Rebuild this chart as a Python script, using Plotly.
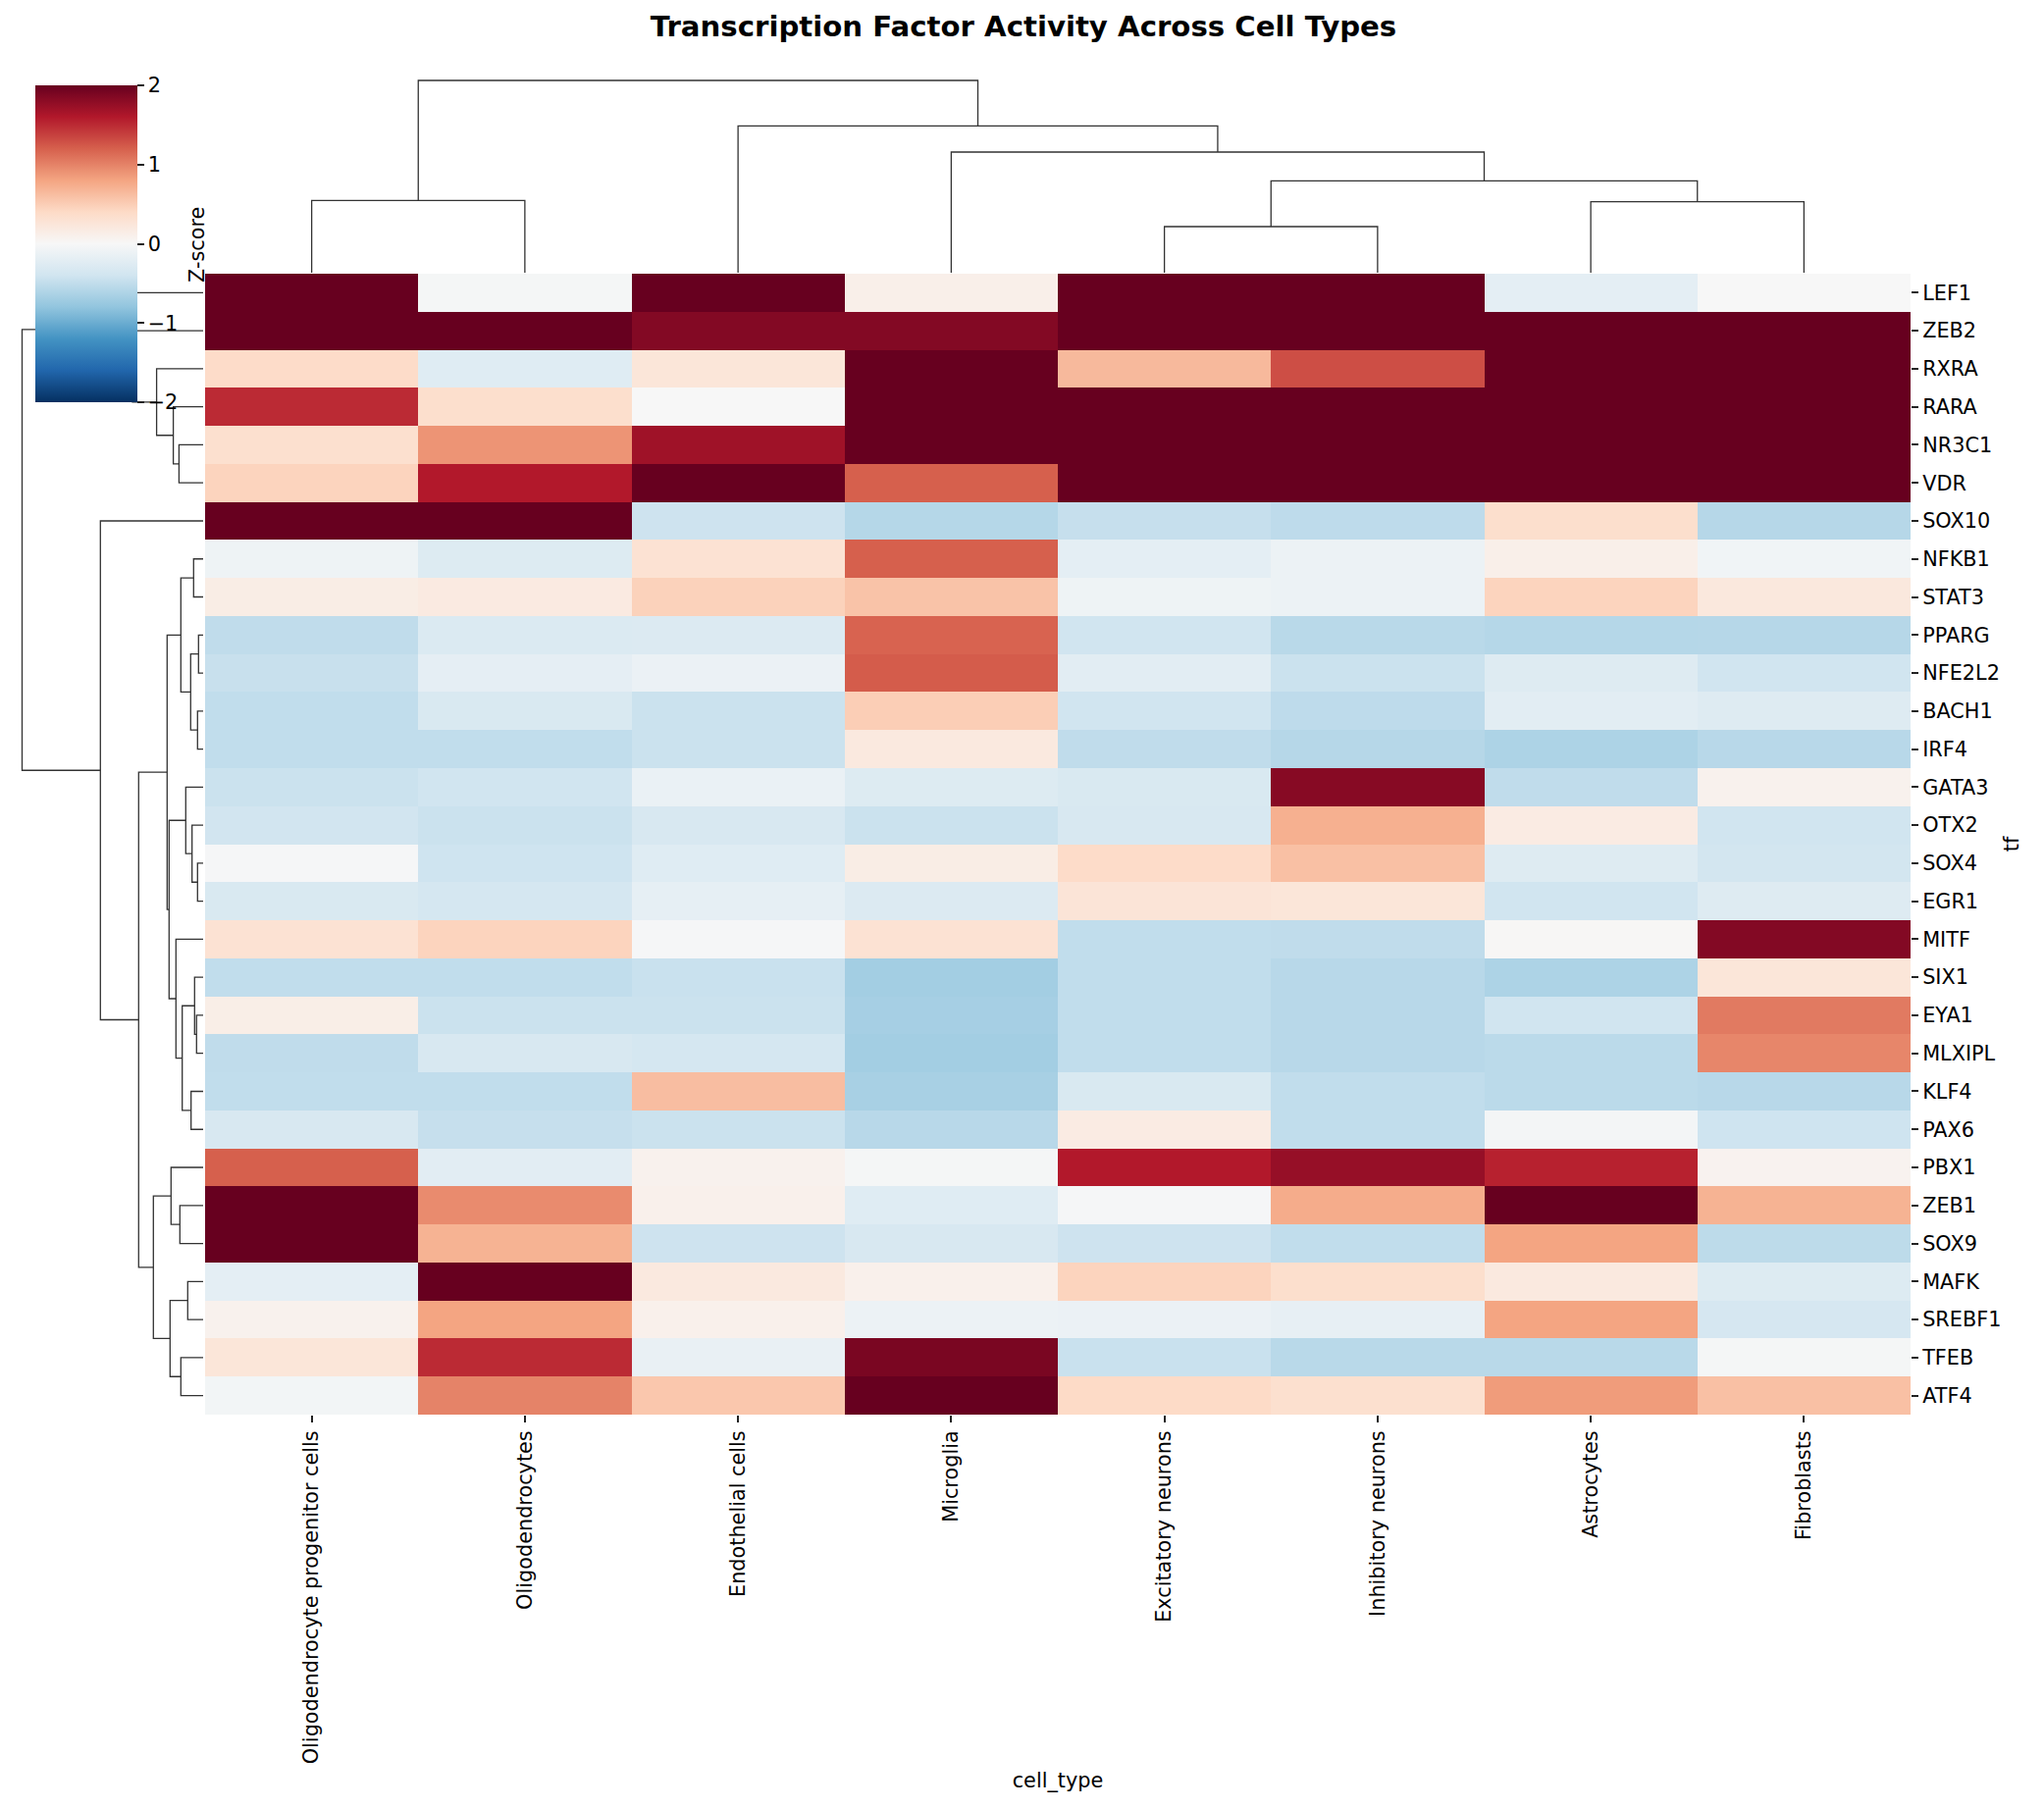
import plotly.graph_objects as go
from plotly.colors import sequential

W, H = 2083, 1843
# the page keeps an 8px body margin, so the figure is smaller and px are page positions
FW, FH = W - 16, H - 16


def px(v):
    return (v - 8) / FW


def py(v):
    return 1 - (v - 8) / FH


cell_types = ['Oligodendrocyte progenitor cells', 'Oligodendrocytes', 'Endothelial cells', 'Microglia',
              'Excitatory neurons', 'Inhibitory neurons', 'Astrocytes', 'Fibroblasts']
tfs = ['LEF1', 'ZEB2', 'RXRA', 'RARA', 'NR3C1', 'VDR', 'SOX10', 'NFKB1', 'STAT3', 'PPARG',
       'NFE2L2', 'BACH1', 'IRF4', 'GATA3', 'OTX2', 'SOX4', 'EGR1', 'MITF', 'SIX1', 'EYA1',
       'MLXIPL', 'KLF4', 'PAX6', 'PBX1', 'ZEB1', 'SOX9', 'MAFK', 'SREBF1', 'TFEB', 'ATF4']

# z-scores, values past +2 are saturated in the reference
zscores = [
    [2.5, -0.03, 2.2, 0.12, 2.2, 2.2, -0.2, 0.0],
    [2.5, 2.5, 1.85, 1.85, 2.5, 2.5, 2.5, 2.5],
    [0.38, -0.25, 0.25, 2.5, 0.65, 1.3, 2.5, 2.5],
    [1.5, 0.35, 0.0, 2.5, 2.5, 2.5, 2.5, 2.5],
    [0.33, 0.9, 1.7, 2.5, 2.5, 2.5, 2.5, 2.5],
    [0.45, 1.6, 2.2, 1.2, 2.5, 2.5, 2.5, 2.5],
    [2.5, 2.5, -0.42, -0.58, -0.47, -0.52, 0.35, -0.57],
    [-0.1, -0.27, 0.3, 1.2, -0.2, -0.12, 0.12, -0.07],
    [0.15, 0.18, 0.47, 0.58, -0.1, -0.12, 0.45, 0.22],
    [-0.51, -0.29, -0.28, 1.18, -0.4, -0.55, -0.58, -0.57],
    [-0.46, -0.19, -0.13, 1.22, -0.22, -0.44, -0.26, -0.4],
    [-0.5, -0.32, -0.44, 0.5, -0.4, -0.52, -0.22, -0.26],
    [-0.5, -0.5, -0.44, 0.2, -0.51, -0.57, -0.63, -0.56],
    [-0.44, -0.4, -0.14, -0.27, -0.32, 1.83, -0.51, 0.08],
    [-0.39, -0.44, -0.33, -0.44, -0.33, 0.72, 0.17, -0.4],
    [-0.02, -0.41, -0.25, 0.15, 0.38, 0.6, -0.26, -0.38],
    [-0.32, -0.36, -0.18, -0.28, 0.27, 0.25, -0.4, -0.26],
    [0.3, 0.45, -0.02, 0.3, -0.5, -0.51, 0.02, 1.85],
    [-0.5, -0.5, -0.45, -0.69, -0.5, -0.56, -0.63, 0.25],
    [0.13, -0.44, -0.44, -0.67, -0.5, -0.56, -0.4, 1.05],
    [-0.51, -0.33, -0.36, -0.69, -0.5, -0.56, -0.54, 0.98],
    [-0.5, -0.5, 0.62, -0.66, -0.32, -0.5, -0.54, -0.56],
    [-0.33, -0.47, -0.44, -0.56, 0.17, -0.5, -0.04, -0.41],
    [1.2, -0.22, 0.08, -0.03, 1.6, 1.75, 1.55, 0.07],
    [2.5, 0.95, 0.1, -0.25, -0.02, 0.75, 2.5, 0.7],
    [2.5, 0.7, -0.42, -0.33, -0.42, -0.5, 0.8, -0.53],
    [-0.2, 2.5, 0.2, 0.1, 0.45, 0.35, 0.2, -0.27],
    [0.08, 0.8, 0.1, -0.12, -0.13, -0.17, 0.8, -0.35],
    [0.25, 1.5, -0.15, 1.9, -0.45, -0.55, -0.55, -0.03],
    [-0.05, 1.0, 0.55, 2.3, 0.4, 0.33, 0.85, 0.6],
]

# dendrograms as (height, left, right), an int is a leaf index
col_tree = (196, (73.6, 0, 1),
            (149.6, 2, (123, 3, (93.6, (47, 4, 5), (72.3, 6, 7)))))

row_tree = (184.5,
            (130, 0, (72, 1, (47.4, 2, (30.4, 3, (24.6, 4, 5))))),
            (104.7, 6,
             (65.7,
              (36.7,
               (22.7, (9.7, 7, 8), (12.7, (4.7, 9, 10), (5.7, 11, 12))),
               (34.7,
                (17.7, 13, (11.3, 14, (5.7, 15, 16))),
                (27.7, 17, (21.3, (8.7, 18, (6.7, 19, 20)), (12.3, 21, 22))))),
              (50.7,
               (32.7, 23, (23.7, 24, 25)),
               (33.7, (15.7, 26, 27), (22.7, 28, 29))))))


def tree_lines(node, pos, height):
    # walks the tree, appends the U shape of each merge, returns (position, height) of node
    if isinstance(node, int):
        return node, 0
    h, left, right = node
    p1, h1 = tree_lines(left, pos, height)
    p2, h2 = tree_lines(right, pos, height)
    pos += [p1, p1, p2, p2, None]
    height += [h1, h, h, h2, None]
    return (p1 + p2) / 2, h


col_pos, col_h = [], []
tree_lines(col_tree, col_pos, col_h)
row_pos, row_h = [], []
tree_lines(row_tree, row_pos, row_h)

font = dict(family='DejaVu Sans', size=20.8, color='black')
tick_color = '#222222'

fig = go.Figure()
fig.add_trace(go.Heatmap(
    z=zscores, x=cell_types, y=tfs, zmin=-2, zmax=2,
    colorscale=sequential.RdBu_r,
    colorbar=dict(
        x=px(36), xanchor='left', xref='paper', xpad=0,
        y=py(248.5), yanchor='middle', yref='paper', ypad=0,
        thicknessmode='pixels', thickness=104,
        lenmode='pixels', len=323,
        outlinewidth=0,
        tickmode='array', tickvals=[-2, -1, 0, 1, 2],
        ticks='outside', ticklen=7, tickwidth=1.6, tickcolor=tick_color,
        tickfont=font,
    ),
))
line = dict(color='#333333', width=1.3)
fig.add_trace(go.Scatter(x=col_pos, y=col_h, mode='lines', line=line, xaxis='x2', yaxis='y2', showlegend=False))
fig.add_trace(go.Scatter(x=row_h, y=row_pos, mode='lines', line=line, xaxis='x3', yaxis='y3', showlegend=False))

blank = dict(visible=False, showgrid=False, zeroline=False)
heat_x = [px(209), px(1947)]
heat_y = [py(1442), py(279)]
fig.update_layout(
    width=FW, height=FH,
    margin=dict(l=0, r=0, t=0, b=0),
    paper_bgcolor='white', plot_bgcolor='white',
    showlegend=False,
    title=dict(text='<b>Transcription Factor Activity Across Cell Types</b>',
               x=px(1043), xanchor='center', y=py(27), yanchor='middle',
               font=dict(family='DejaVu Sans', size=29.2, color='black')),
    xaxis=dict(domain=heat_x, side='bottom', tickangle=-90, ticks='outside', ticklen=7, tickwidth=1.6,
               tickcolor=tick_color, tickfont=font,
               showgrid=False, zeroline=False, automargin=False,
               title=dict(text='cell_type', standoff=10, font=font)),
    yaxis=dict(domain=heat_y, side='right', autorange='reversed', ticks='outside', ticklen=7, tickwidth=1.6,
               tickcolor=tick_color, tickfont=font,
               showgrid=False, zeroline=False, automargin=False,
               title=dict(text='tf', standoff=4, font=font)),
    xaxis2=dict(domain=heat_x, range=[-0.5, 7.5], anchor='y2', **blank),
    yaxis2=dict(domain=[py(278), py(78)], range=[0, 200], anchor='x2', **blank),
    xaxis3=dict(domain=[px(8), px(207)], range=[199, 0], anchor='y3', **blank),
    yaxis3=dict(domain=heat_y, range=[29.5, -0.5], anchor='x3', **blank),
    annotations=[dict(text='Z-score', textangle=-90, xref='paper', yref='paper',
                      x=px(201), y=py(250), xanchor='center', yanchor='middle',
                      showarrow=False, font=font)],
)

fig.write_html("out.html")
